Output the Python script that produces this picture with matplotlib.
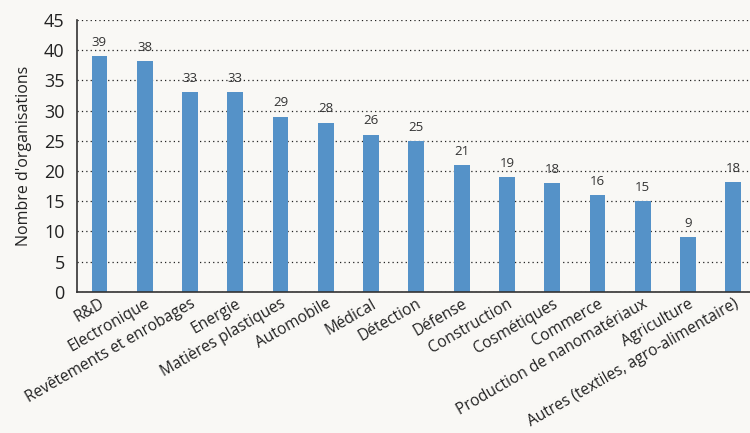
import matplotlib.pyplot as plt
import numpy as np

categories = ["R&D", "Electronique", "Revêtements et enrobages", "Energie",
              "Matières plastiques", "Automobile", "Médical", "Détection",
              "Défense", "Construction", "Cosmétiques", "Commerce",
              "Production de nanomatériaux", "Agriculture",
              "Autres (textiles, agro-alimentaire)"]
values = [39, 38.2, 33, 33, 29, 28, 26, 25, 21, 19, 18, 16, 15, 9, 18.2]
value_labels = ["39", "38", "33", "33", "29", "28", "26", "25", "21", "19",
                "18", "16", "15", "9", "18"]
y_ticks = [0, 5, 10, 15, 20, 25, 30, 35, 40, 45]

bg = "#f9f8f5"
bar_color = "#5592c8"

plt.rcParams['font.family'] = ['Open Sans', 'DejaVu Sans']

fig = plt.figure(figsize=(7.5, 4.33), dpi=100, facecolor=bg)
ax = fig.add_axes([0.103, 0.326, 0.897, 0.628], facecolor=bg)

x = np.arange(len(categories))
ax.bar(x, values, width=0.35, color=bar_color, zorder=3)

for xi, v, lab in zip(x, values, value_labels):
    ax.text(xi, v + 1.2, lab, ha="center", va="bottom", fontsize=9.5,
            color="#333333", zorder=4)

ax.set_ylim(0, 45)
ax.set_xlim(-0.49, 14.37)
ax.set_yticks(y_ticks)
ax.tick_params(axis="y", length=0, labelsize=13, pad=9, labelcolor="#222222")
ax.tick_params(axis="x", length=0, pad=3)
ax.set_xticks(x)
ax.set_xticklabels(categories, rotation=30, ha="right", rotation_mode="anchor",
                   fontsize=11.2, color="#222222")
ax.set_ylabel("Nombre d'organisations", fontsize=11.5, color="#222222", labelpad=9)

ax.yaxis.grid(True, linestyle=(0, (1, 2.5)), color="#222222", linewidth=0.9, zorder=0)
for s in ["top", "right"]:
    ax.spines[s].set_visible(False)
ax.spines["left"].set_color("#333333")
ax.spines["bottom"].set_color("#333333")
ax.spines["left"].set_linewidth(1.2)
ax.spines["bottom"].set_linewidth(1.2)
ax.spines["left"].set_zorder(5)
ax.spines["bottom"].set_zorder(5)

fig.savefig("out.png", dpi=100, facecolor=bg)
